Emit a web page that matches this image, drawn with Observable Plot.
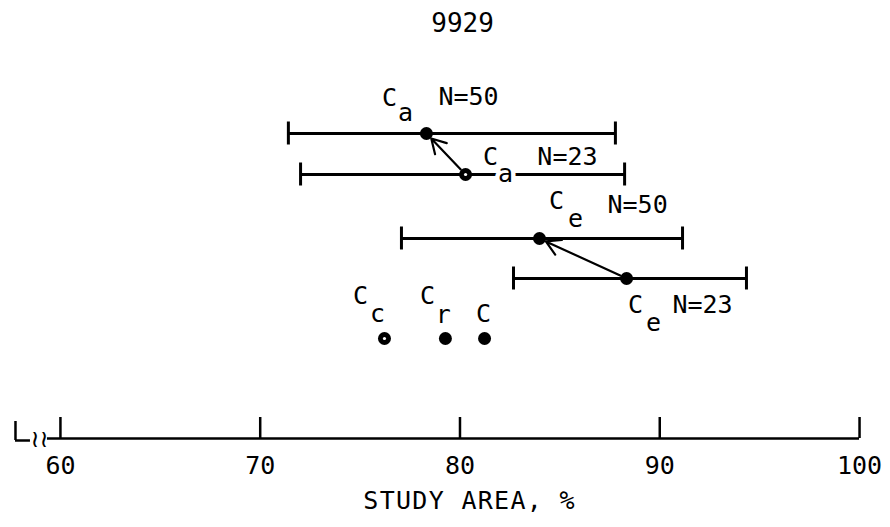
<!DOCTYPE html>
<html>
<head>
<meta charset="utf-8">
<script src="https://cdn.jsdelivr.net/npm/d3@7"></script>
<script src="https://cdn.jsdelivr.net/npm/@observablehq/plot@0.6"></script>
<style>
  html, body { margin: 0; padding: 0; background: #fff; }
  #chart svg { display: block; }
</style>
</head>
<body>
<div id="chart"></div>
<script>
// ---- data ----
const titleText = "9929";
const axisTitle = "STUDY AREA, %";
const xTicks = [60, 70, 80, 90, 100];

const series = ["Ca N=50", "Ca N=23", "Ce N=50", "Ce N=23"];
const means = [78.32, 80.28, 83.98, 88.34];
const lows = [71.41, 72.02, 77.07, 82.68];
const highs = [87.78, 88.24, 91.14, 94.34];
const rowLevels = [39.4, 35.3, 28.9, 24.9];
const hollow = [false, true, false, false];

const singleNames = ["Cc", "Cr", "C"];
const singleValues = [76.22, 79.27, 81.23];
const singleLevel = 18.9;
const singleHollow = [true, false, false];

// arrows: from N=23 result to N=50 result (indices into series)
const arrowFrom = [1, 3];
const arrowTo = [0, 2];

// labels (main letter, subscript, N) positions in data units
const labelTexts = ["C", "a", "N=50", "C", "a", "N=23", "C", "e", "N=50", "C", "e", "N=23", "C", "c", "C", "r", "C"];
const labelX = [76.47, 77.27, 80.43, 81.53, 82.28, 85.38, 84.83, 85.78, 88.89, 88.79, 89.69, 92.14, 75.02, 75.87, 78.37, 79.17, 81.18];
const labelY = [43.0, 41.5, 43.1, 37.1, 35.4, 37.1, 32.7, 30.9, 32.3, 22.3, 20.5, 22.3, 23.2, 21.4, 23.2, 21.3, 21.4];

// axis layout values (data units)
const xDomain = [57.0, 101.55];
const yDomain = [0, 52.7];
const axisLevel = 8.9;
const axisStart = 59.35;
const breakX = [57.75, 58.5];
const squiggleX = 58.95;
const tickLabelLevel = 6.2;
const axisTitleX = 80.48;
const axisTitleLevel = 2.7;
const titleX = 80.13, titleLevel = 50.4;

// ---- build tables ----
const rows = series.map((s, i) => ({s, mean: means[i], lo: lows[i], hi: highs[i], y: rowLevels[i], hollow: hollow[i]}));
const singles = singleNames.map((s, i) => ({s, x: singleValues[i], y: singleLevel, hollow: singleHollow[i]}));
const arrows = arrowFrom.map((f, i) => ({x1: means[f], y1: rowLevels[f], x2: means[arrowTo[i]], y2: rowLevels[arrowTo[i]]}));
const labels = labelTexts.map((t, i) => ({t, x: labelX[i], y: labelY[i]}));
const caps = rows.flatMap(r => [{x: r.lo, y: r.y}, {x: r.hi, y: r.y}]);
const hollowPts = [...rows.filter(r => r.hollow).map(r => ({x: r.mean, y: r.y})), ...singles.filter(d => d.hollow)];

const font = "DejaVu Sans Mono, monospace";

const plot = Plot.plot({
  width: 890,
  height: 527,
  margin: 0,
  x: {domain: xDomain, axis: null},
  y: {domain: yDomain, axis: null},
  style: {fontFamily: font, background: "#fff", color: "#000"},
  marks: [
    // title
    Plot.text([titleText], {x: titleX, y: titleLevel, text: d => d, fontSize: 26, fill: "#000"}),
    // axis
    Plot.ruleY([axisLevel], {x1: axisStart, x2: xTicks[xTicks.length - 1], stroke: "#000", strokeWidth: 2.5}),
    Plot.ruleX([breakX[0]], {y1: axisLevel - 0.2, y2: axisLevel + 1.7, stroke: "#000", strokeWidth: 2.5}),
    Plot.ruleY([axisLevel - 0.2], {x1: breakX[0], x2: breakX[1], stroke: "#000", strokeWidth: 2.5}),
    Plot.text(["≀≀"], {x: squiggleX, y: axisLevel, text: d => d, fontSize: 24, fontFamily: "DejaVu Sans", fill: "#000", dy: 1}),
    Plot.ruleX(xTicks, {x: d => d, y1: axisLevel, y2: axisLevel + 2.1, stroke: "#000", strokeWidth: 2.5}),
    Plot.text(xTicks, {x: d => d, y: tickLabelLevel, text: d => String(d), fontSize: 25, fill: "#000"}),
    Plot.text([axisTitle], {x: axisTitleX, y: axisTitleLevel, text: d => d, fontSize: 25, fill: "#000"}),
    // error bars
    Plot.ruleY(rows, {y: "y", x1: "lo", x2: "hi", stroke: "#000", strokeWidth: 3}),
    Plot.ruleX(caps, {x: "x", y1: d => d.y - 1.15, y2: d => d.y + 1.15, stroke: "#000", strokeWidth: 3}),
    // arrows
    Plot.arrow(arrows, {x1: "x1", y1: "y1", x2: "x2", y2: "y2", stroke: "#000", strokeWidth: 2.2, headLength: 11, insetStart: 7, insetEnd: 7}),
    // points
    Plot.dot(rows, {x: "mean", y: "y", r: 6.5, fill: "#000"}),
    Plot.dot(singles, {x: "x", y: "y", r: 6.5, fill: "#000"}),
    Plot.dot(hollowPts, {x: "x", y: "y", r: 1.6, fill: "#fff"}),
    // labels
    Plot.text(labels, {x: "x", y: "y", text: "t", fontSize: 25, fill: "#000", stroke: "#fff", strokeWidth: 9, paintOrder: "stroke"})
  ]
});

// widen the axis title a little, as in the reference
d3.select(plot).selectAll("text").filter(function() { return this.textContent === axisTitle; })
  .attr("letter-spacing", "1.3px");

document.getElementById("chart").appendChild(plot);
</script>
</body>
</html>
